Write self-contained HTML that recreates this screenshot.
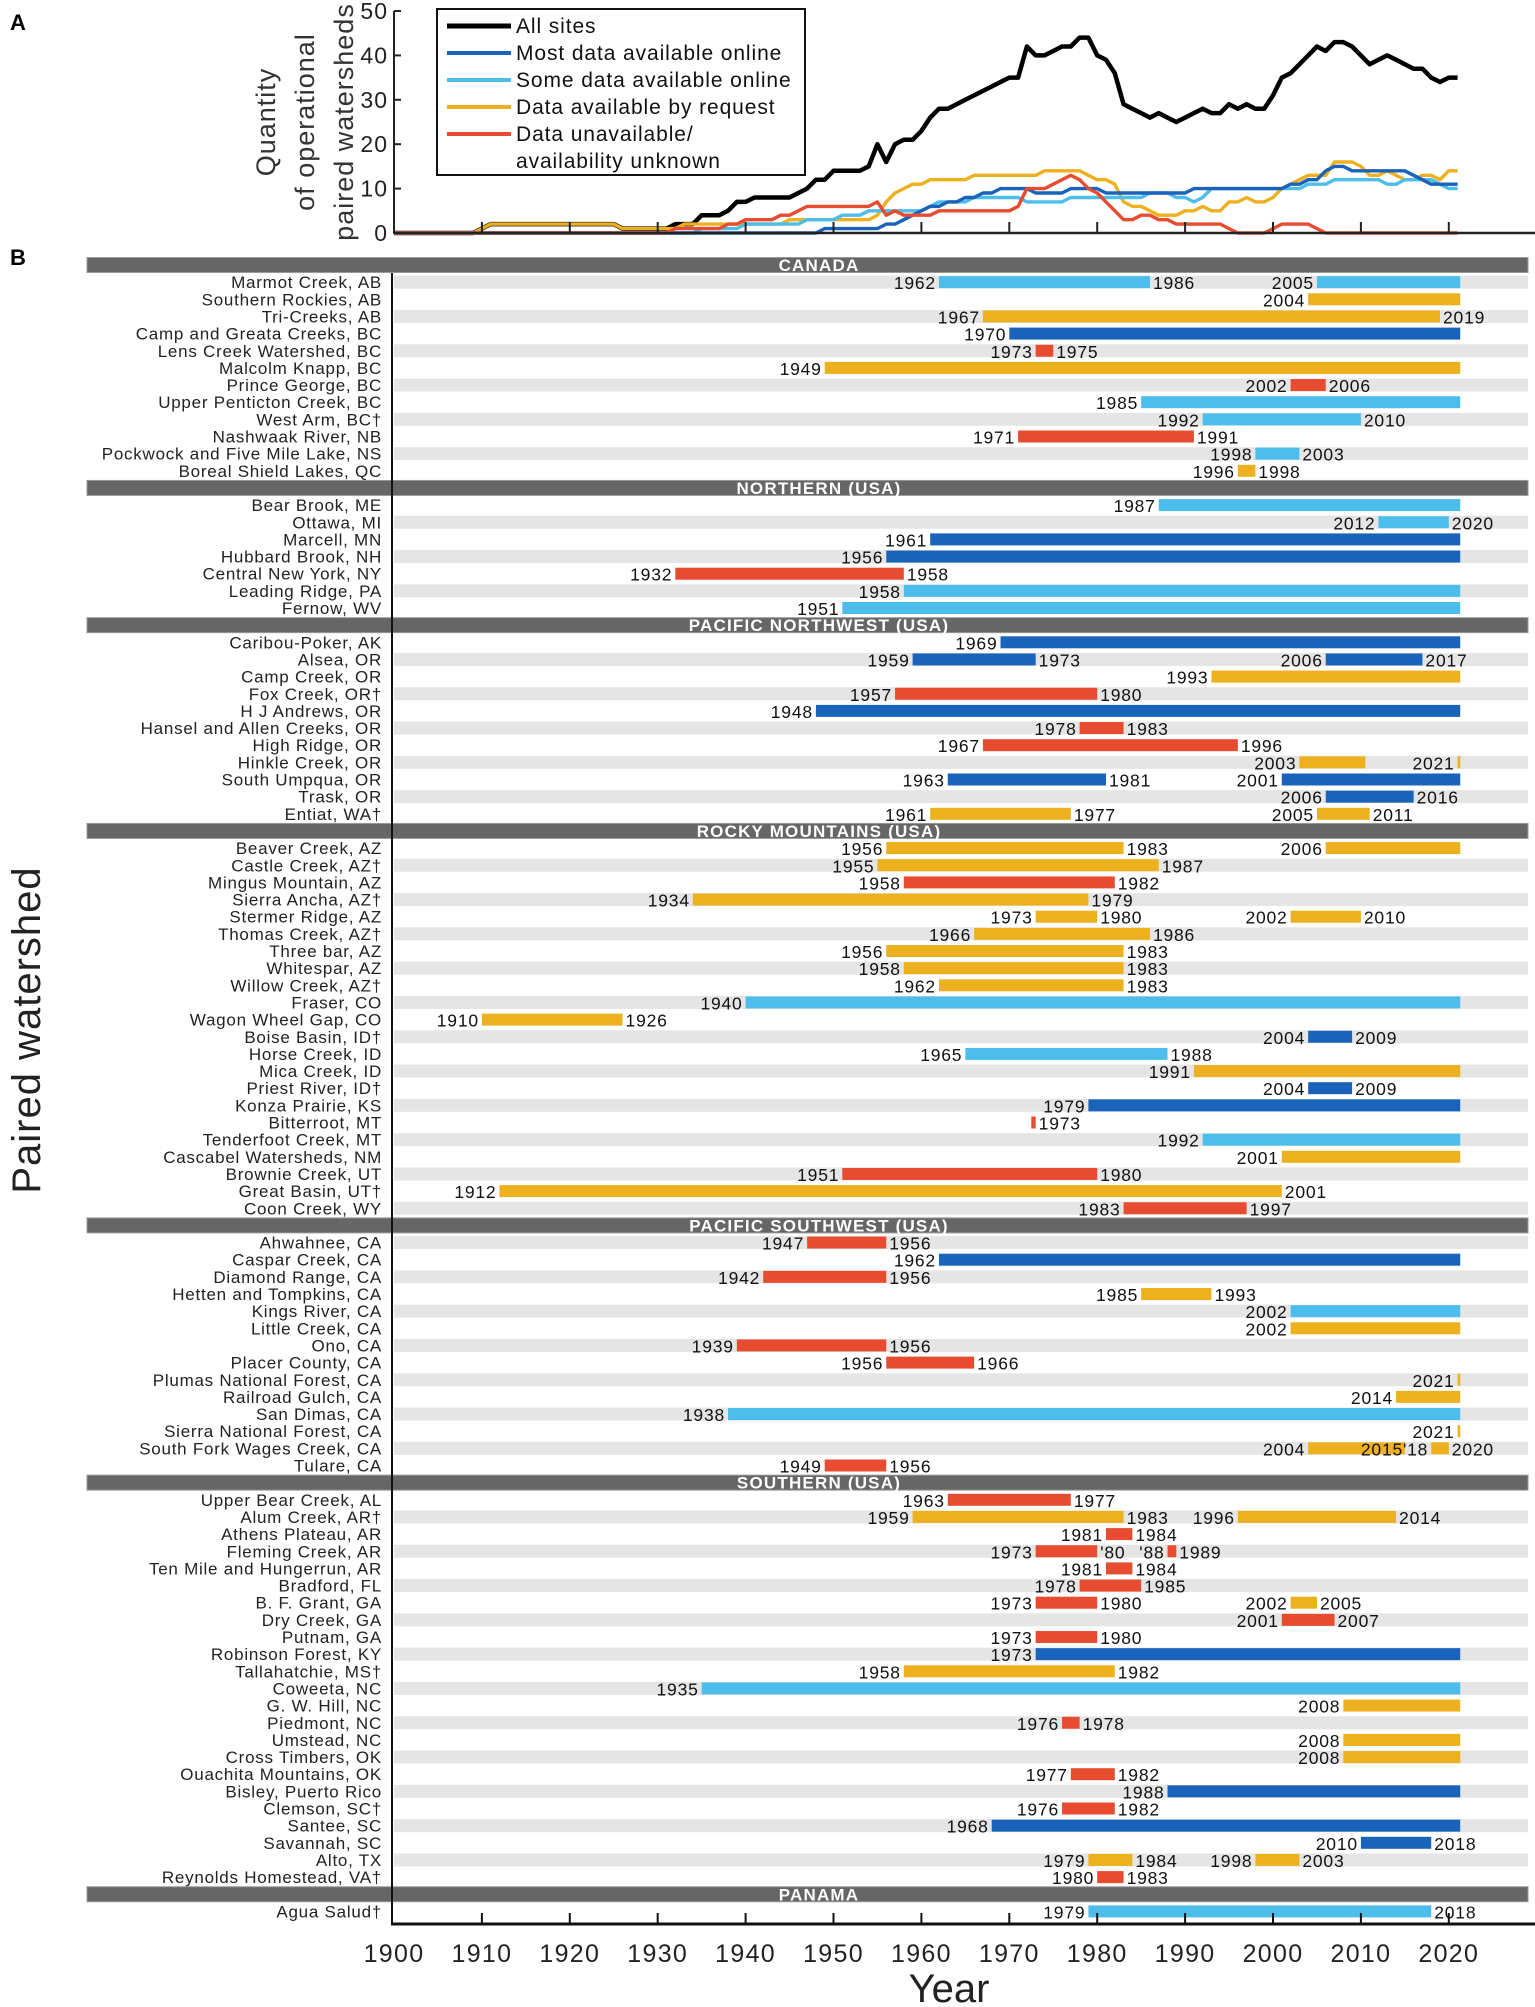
<!DOCTYPE html>
<html><head><meta charset="utf-8">
<style>
html,body{margin:0;padding:0;background:#fff;}
svg{display:block;font-family:"Liberation Sans",sans-serif;}
</style></head>
<body>
<svg id="fig" width="1535" height="2007" viewBox="0 0 1535 2007" xmlns="http://www.w3.org/2000/svg">
  <text x="10" y="30" font-size="22" font-weight="bold">A</text>
  <text x="10" y="265" font-size="22" font-weight="bold">B</text>
  <g id="topchart"></g>
  <g id="botchart"></g>
</svg>
<script>
// ---------- Panel A data ----------
const years = [];
for (let y = 1900; y <= 2021; y++) years.push(y);
const seriesNames = ["All sites","Most data available online","Some data available online","Data available by request","Data unavailable/"];
const seriesColors = ["#000000","#1a63bb","#4dbdeb","#edb120","#e84c30"];
const allSites = [0,0,0,0,0,0,0,0,0,0, 1,2,2,2,2,2,2,2,2,2, 2,2,2,2,2,2,1,1,1,1, 1,1,2,2,2,4,4,4,5,7,
 7,8,8,8,8,8,9,10,12,12, 14,14,14,14,15,20,16,20,21,21, 23,26,28,28,29,30,31,32,33,34, 35,35,42,40,40,41,42,42,44,44,
 40,39,36,29,28,27,26,27,26,25, 26,27,28,27,27,29,28,29,28,28, 31,35,36,38,40,42,41,43,43,42, 40,38,39,40,39,38,37,37,35,34, 35,35];
const mostOnline = [0,0,0,0,0,0,0,0,0,0, 0,0,0,0,0,0,0,0,0,0, 0,0,0,0,0,0,0,0,0,0, 0,0,0,0,0,0,0,0,0,0,
 0,0,0,0,0,0,0,0,0,1, 1,1,1,1,1,1,2,2,3,4, 5,6,6,7,7,8,8,9,9,10, 10,10,10,9,9,9,9,10,10,10,
 10,9,9,9,9,9,9,9,9,9, 9,10,10,10,10,10,10,10,10,10, 10,10,11,11,12,12,14,15,15,14, 14,14,14,14,14,14,13,12,11,11, 11,11];
const someOnline = [0,0,0,0,0,0,0,0,0,0, 0,0,0,0,0,0,0,0,0,0, 0,0,0,0,0,0,0,0,0,0, 0,0,0,0,0,1,1,1,1,1,
 2,2,2,2,2,2,2,3,3,3, 3,4,4,4,5,5,5,5,5,5, 5,6,7,7,7,7,8,8,8,8, 8,8,7,7,7,7,7,8,8,8,
 8,8,8,8,8,8,9,9,9,8, 8,7,8,10,10,10,10,10,10,10, 10,10,10,10,11,11,11,12,12,12, 12,12,12,11,11,12,12,12,12,11, 10,10];
const byRequest = [0,0,0,0,0,0,0,0,0,0, 1,2,2,2,2,2,2,2,2,2, 2,2,2,2,2,2,1,1,1,1, 1,1,1,2,2,2,2,2,2,2,
 2,2,2,2,2,3,3,3,3,3, 3,3,3,3,3,4,7,9,10,11, 11,12,12,12,12,12,13,13,13,13, 13,13,13,13,14,14,14,14,14,13,
 12,12,11,7,6,6,5,4,4,4, 5,5,6,5,5,7,7,8,7,7, 8,10,11,12,13,13,13,16,16,16, 15,13,13,14,13,12,12,13,13,12, 14,14];
const unavailable = [0,0,0,0,0,0,0,0,0,0, 0,0,0,0,0,0,0,0,0,0, 0,0,0,0,0,0,0,0,0,0, 0,0,1,1,1,1,1,1,2,2,
 3,3,3,3,4,4,5,6,6,6, 6,6,6,6,6,7,4,5,4,4, 4,4,5,5,5,5,5,5,5,5, 5,6,10,10,10,11,12,13,12,10,
 9,7,5,3,3,4,4,3,3,2, 2,2,2,2,2,1,0,0,0,0, 1,2,2,2,2,1,0,0,0,0, 0,0,0,0,0,0,0,0,0,0, 0,0];
const yTicks = [0,10,20,30,40,50];
const xTicks = [1900,1910,1920,1930,1940,1950,1960,1970,1980,1990,2000,2010,2020];

// ---------- Panel B data ----------
const catColors = {D:"#1a63bb", L:"#4dbdeb", O:"#edb120", R:"#e84c30"};
const ONGOING = 2021.3;
const regionNames = ["CANADA","NORTHERN (USA)","PACIFIC NORTHWEST  (USA)","ROCKY MOUNTAINS (USA)","PACIFIC SOUTHWEST (USA)","SOUTHERN (USA)","PANAMA"];
const sites = [
 [0,"Marmot Creek, AB",[[1962,1986,"L"],[2005,null,"L"]]],
 [0,"Southern Rockies, AB",[[2004,null,"O"]]],
 [0,"Tri-Creeks, AB",[[1967,2019,"O"]]],
 [0,"Camp and Greata Creeks, BC",[[1970,null,"D"]]],
 [0,"Lens Creek Watershed, BC",[[1973,1975,"R"]]],
 [0,"Malcolm Knapp, BC",[[1949,null,"O"]]],
 [0,"Prince George, BC",[[2002,2006,"R"]]],
 [0,"Upper Penticton Creek, BC",[[1985,null,"L"]]],
 [0,"West Arm, BC†",[[1992,2010,"L"]]],
 [0,"Nashwaak River, NB",[[1971,1991,"R"]]],
 [0,"Pockwock and Five Mile Lake, NS",[[1998,2003,"L"]]],
 [0,"Boreal Shield Lakes, QC",[[1996,1998,"O"]]],
 [1,"Bear Brook, ME",[[1987,null,"L"]]],
 [1,"Ottawa, MI",[[2012,2020,"L"]]],
 [1,"Marcell, MN",[[1961,null,"D"]]],
 [1,"Hubbard Brook, NH",[[1956,null,"D"]]],
 [1,"Central New York, NY",[[1932,1958,"R"]]],
 [1,"Leading Ridge, PA",[[1958,null,"L"]]],
 [1,"Fernow, WV",[[1951,null,"L"]]],
 [2,"Caribou-Poker, AK",[[1969,null,"D"]]],
 [2,"Alsea, OR",[[1959,1973,"D"],[2006,2017,"D"]]],
 [2,"Camp Creek, OR",[[1993,null,"O"]]],
 [2,"Fox Creek, OR†",[[1957,1980,"R"]]],
 [2,"H J Andrews, OR",[[1948,null,"D"]]],
 [2,"Hansel and Allen Creeks, OR",[[1978,1983,"R"]]],
 [2,"High Ridge, OR",[[1967,1996,"R"]]],
 [2,"Hinkle Creek, OR",[[2003,2010.5,"O","2003",""],[2021,null,"O"]]],
 [2,"South Umpqua, OR",[[1963,1981,"D"],[2001,null,"D"]]],
 [2,"Trask, OR",[[2006,2016,"D"]]],
 [2,"Entiat, WA†",[[1961,1977,"O"],[2005,2011,"O"]]],
 [3,"Beaver Creek, AZ",[[1956,1983,"O"],[2006,null,"O"]]],
 [3,"Castle Creek, AZ†",[[1955,1987,"O"]]],
 [3,"Mingus Mountain, AZ",[[1958,1982,"R"]]],
 [3,"Sierra Ancha, AZ†",[[1934,1979,"O"]]],
 [3,"Stermer Ridge, AZ",[[1973,1980,"O"],[2002,2010,"O"]]],
 [3,"Thomas Creek, AZ†",[[1966,1986,"O"]]],
 [3,"Three bar, AZ",[[1956,1983,"O"]]],
 [3,"Whitespar, AZ",[[1958,1983,"O"]]],
 [3,"Willow Creek, AZ†",[[1962,1983,"O"]]],
 [3,"Fraser, CO",[[1940,null,"L"]]],
 [3,"Wagon Wheel Gap, CO",[[1910,1926,"O"]]],
 [3,"Boise Basin, ID†",[[2004,2009,"D"]]],
 [3,"Horse Creek, ID",[[1965,1988,"L"]]],
 [3,"Mica Creek, ID",[[1991,null,"O"]]],
 [3,"Priest River, ID†",[[2004,2009,"D"]]],
 [3,"Konza Prairie, KS",[[1979,null,"D"]]],
 [3,"Bitterroot, MT",[[1972.5,1973,"R",""," 1973"]]],
 [3,"Tenderfoot Creek, MT",[[1992,null,"L"]]],
 [3,"Cascabel Watersheds, NM",[[2001,null,"O"]]],
 [3,"Brownie Creek, UT",[[1951,1980,"R"]]],
 [3,"Great Basin, UT†",[[1912,2001,"O"]]],
 [3,"Coon Creek, WY",[[1983,1997,"R"]]],
 [4,"Ahwahnee, CA",[[1947,1956,"R"]]],
 [4,"Caspar Creek, CA",[[1962,null,"D"]]],
 [4,"Diamond Range, CA",[[1942,1956,"R"]]],
 [4,"Hetten and Tompkins, CA",[[1985,1993,"O"]]],
 [4,"Kings River, CA",[[2002,null,"L"]]],
 [4,"Little Creek, CA",[[2002,null,"O"]]],
 [4,"Ono, CA",[[1939,1956,"R"]]],
 [4,"Placer County, CA",[[1956,1966,"R"]]],
 [4,"Plumas National Forest, CA",[[2021,null,"O"]]],
 [4,"Railroad Gulch, CA",[[2014,null,"O"]]],
 [4,"San Dimas, CA",[[1938,null,"L"]]],
 [4,"Sierra National Forest, CA",[[2021,null,"O"]]],
 [4,"South Fork Wages Creek, CA",[[2004,2015,"O","2004",""],[2018,2020,"O","2015'18","2020"]]],
 [4,"Tulare, CA",[[1949,1956,"R"]]],
 [5,"Upper Bear Creek, AL",[[1963,1977,"R"]]],
 [5,"Alum Creek, AR†",[[1959,1983,"O"],[1996,2014,"O"]]],
 [5,"Athens Plateau, AR",[[1981,1984,"R"]]],
 [5,"Fleming Creek, AR",[[1973,1980,"R","1973","'80"],[1988,1989,"R","'88","1989"]]],
 [5,"Ten Mile and Hungerrun, AR",[[1981,1984,"R"]]],
 [5,"Bradford, FL",[[1978,1985,"R"]]],
 [5,"B. F. Grant, GA",[[1973,1980,"R"],[2002,2005,"O"]]],
 [5,"Dry Creek, GA",[[2001,2007,"R"]]],
 [5,"Putnam, GA",[[1973,1980,"R"]]],
 [5,"Robinson Forest, KY",[[1973,null,"D"]]],
 [5,"Tallahatchie, MS†",[[1958,1982,"O"]]],
 [5,"Coweeta, NC",[[1935,null,"L"]]],
 [5,"G. W. Hill, NC",[[2008,null,"O"]]],
 [5,"Piedmont, NC",[[1976,1978,"R"]]],
 [5,"Umstead, NC",[[2008,null,"O"]]],
 [5,"Cross Timbers, OK",[[2008,null,"O"]]],
 [5,"Ouachita Mountains, OK",[[1977,1982,"R"]]],
 [5,"Bisley, Puerto Rico",[[1988,null,"D"]]],
 [5,"Clemson, SC†",[[1976,1982,"R"]]],
 [5,"Santee, SC",[[1968,null,"D"]]],
 [5,"Savannah, SC",[[2010,2018,"D"]]],
 [5,"Alto, TX",[[1979,1984,"O"],[1998,2003,"O"]]],
 [5,"Reynolds Homestead, VA†",[[1980,1983,"R"]]],
 [6,"Agua Salud†",[[1979,2018,"L"]]]
];

const NS = "http://www.w3.org/2000/svg";
function mk(tag, attrs, parent, txt) {
  const e = document.createElementNS(NS, tag);
  for (const k in attrs) e.setAttribute(k, attrs[k]);
  if (txt !== undefined) e.textContent = txt;
  parent.appendChild(e);
  return e;
}
const X0 = 394, DEC = 8.79;
function xs(year) { return X0 + (year - 1900) * DEC; }

// ---------- Panel A ----------
const topG = document.getElementById('topchart');
function ys(v) { return 233 - v * 4.44; }
const seriesData = [allSites, mostOnline, someOnline, byRequest, unavailable];
[0,3,2,1,4].forEach(si => {
  const pts = years.map((y, i) => xs(y).toFixed(1) + ',' + ys(seriesData[si][i]).toFixed(1)).join(' ');
  const pl = mk('polyline', {points: pts, fill: 'none', stroke: seriesColors[si], 'stroke-width': si === 0 ? 4.5 : 3.4, 'stroke-linejoin': 'round'}, topG);
  
  
});
const ax = mk('line', {x1: X0, y1: 11, x2: X0, y2: 234, stroke: '#222', 'stroke-width': 2}, topG);


const bx = mk('line', {x1: X0, y1: 233, x2: 1535, y2: 233, stroke: '#222', 'stroke-width': 2.5}, topG);


yTicks.forEach(v => {
  const t = mk('line', {x1: X0, y1: ys(v), x2: X0 + 7, y2: ys(v), stroke: '#222', 'stroke-width': 2}, topG);
  
  
  const l = mk('text', {x: X0 - 6, y: ys(v) + 8, 'font-size': 23, 'letter-spacing': 1, 'text-anchor': 'end', fill: '#222'}, topG, String(v));
  
  
});
xTicks.forEach(y => {
  if (y === 1900) return;
  const t = mk('line', {x1: xs(y), y1: 233, x2: xs(y), y2: 222, stroke: '#222', 'stroke-width': 2}, topG);
  
  
});
const ttl = mk('g', {transform: 'translate(305,122) rotate(-90)'}, topG);


mk('text', {x: 0, y: -30, 'font-size': 27, 'letter-spacing': 1, 'text-anchor': 'middle', fill: '#333'}, ttl, 'Quantity');
mk('text', {x: 0, y: 9, 'font-size': 27, 'letter-spacing': 1, 'text-anchor': 'middle', fill: '#333'}, ttl, 'of operational');
mk('text', {x: 0, y: 48, 'font-size': 27, 'letter-spacing': 1, 'text-anchor': 'middle', fill: '#333'}, ttl, 'paired watersheds');
const lg = mk('g', {}, topG);


mk('rect', {x: 437, y: 9, width: 368, height: 166, fill: '#fff', stroke: '#111', 'stroke-width': 2}, lg);
const legY = [26, 53, 80, 107, 134];
seriesNames.forEach((n, i) => {
  const en = mk('g', {}, lg);
  
  
  mk('line', {x1: 447, y1: legY[i], x2: 511, y2: legY[i], stroke: seriesColors[i], 'stroke-width': i === 0 ? 5 : 4}, en);
  mk('text', {x: 516, y: legY[i] + 7, 'font-size': 21, 'letter-spacing': 0.9, fill: '#111'}, en, n);
});
const lx = mk('text', {x: 516, y: 168, 'font-size': 21, 'letter-spacing': 0.9, fill: '#111'}, lg, 'availability unknown');



// ---------- Panel B ----------
const botG = document.getElementById('botchart');
const SLOT0 = 265, SLOT = 17.15;
const slots = [];
let prevRegion = -1;
sites.forEach(s => {
  if (s[0] !== prevRegion) { slots.push({header: s[0]}); prevRegion = s[0]; }
  slots.push({site: s});
});
slots.forEach((sl, i) => {
  const cy = SLOT0 + i * SLOT;
  if (sl.site && i % 2 === 1) {
    const r = mk('rect', {x: X0, y: cy - 6.5, width: 1528 - X0, height: 13, fill: '#e5e5e5'}, botG);
    
    
  }
});
slots.forEach((sl, i) => {
  const cy = SLOT0 + i * SLOT;
  if (sl.header !== undefined) {
    const g = mk('g', {}, botG);
    
    
    mk('rect', {x: 87, y: cy - 7.5, width: 1441, height: 15, fill: '#666', stroke: '#999', 'stroke-width': 1}, g);
    mk('text', {x: 819, y: cy + 6, 'font-size': 17, 'letter-spacing': 1.2, 'font-weight': 'bold', 'text-anchor': 'middle', fill: '#fff'}, g, regionNames[sl.header]);
  } else {
    const s = sl.site;
    const g = mk('g', {}, botG);
    
    
    mk('text', {x: 382, y: cy + 6, 'font-size': 17, 'letter-spacing': 0.75, 'text-anchor': 'end', fill: '#222'}, g, s[1]);
    s[2].forEach(seg => {
      const st = seg[0], en = seg[1] === null ? ONGOING : seg[1];
      const b = mk('rect', {x: xs(st), y: cy - 6, width: Math.max(2, xs(en) - xs(st)), height: 12, fill: catColors[seg[2]]}, g);
      
      
      const ll = seg[3] !== undefined ? seg[3] : String(st);
      const rl = seg[4] !== undefined ? seg[4] : (seg[1] === null ? '' : String(seg[1]));
      if (ll) mk('text', {x: xs(st) - 3, y: cy + 7, 'font-size': 17.5, 'letter-spacing': 0.8, 'text-anchor': 'end', fill: '#111'}, g, ll);
      if (rl) mk('text', {x: xs(en) + 3, y: cy + 7, 'font-size': 17.5, 'letter-spacing': 0.8, fill: '#111'}, g, rl);
    });
  }
});
const va = mk('line', {x1: 392, y1: 273, x2: 392, y2: 1925, stroke: '#111', 'stroke-width': 2}, botG);


const ha = mk('line', {x1: 391, y1: 1924, x2: 1535, y2: 1924, stroke: '#111', 'stroke-width': 3}, botG);


xTicks.forEach(y => {
  if (y !== 1900) {
    const t = mk('line', {x1: xs(y), y1: 1924, x2: xs(y), y2: 1913, stroke: '#111', 'stroke-width': 2}, botG);
    
    
  }
  const l = mk('text', {x: xs(y), y: 1962, 'font-size': 25, 'letter-spacing': 1.3, 'text-anchor': 'middle', fill: '#222'}, botG, String(y));
  
  
});
const xt = mk('text', {x: 949, y: 2002, 'font-size': 40, 'text-anchor': 'middle', fill: '#222'}, botG, 'Year');


const yt = mk('text', {x: 0, y: 0, 'font-size': 40, 'letter-spacing': 1, 'text-anchor': 'middle', fill: '#222', transform: 'translate(40,1030) rotate(-90)'}, botG, 'Paired watershed');


</script>
</body></html>
